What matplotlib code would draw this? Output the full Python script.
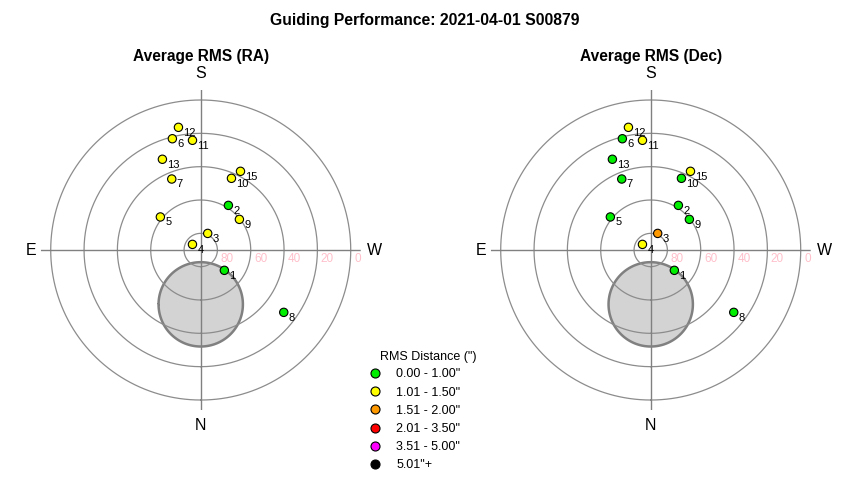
import numpy as np
import matplotlib
matplotlib.use("Agg")
import matplotlib.pyplot as plt
from matplotlib.lines import Line2D

plt.rcParams['font.family'] = ['Liberation Sans', 'DejaVu Sans']

# target numbers, azimuth (deg, N=0, E=90) and altitude (deg)
targets = [1, 2, 3, 4, 5, 6, 7, 8, 9, 10, 11, 12, 13, 15]
azimuth = [310.7, 211.8, 202.8, 124.2, 129.3, 165.7, 157.8, 306.9, 231.6, 203.2, 175.7, 169.7, 157.1, 206.8]
altitude = [71.3, 58.5, 79.2, 84.0, 58.7, 21.1, 44.0, 27.7, 60.4, 43.2, 24.0, 15.2, 30.9, 37.1]

# rms bin index per target (0: 0-1", 1: 1.01-1.5", 2: 1.51-2", ...)
ra_bin = [0, 0, 1, 1, 1, 1, 1, 0, 1, 1, 1, 1, 1, 1]
dec_bin = [0, 0, 2, 1, 0, 0, 0, 0, 0, 0, 1, 1, 0, 1]

bin_labels = ['0.00 - 1.00"', '1.01 - 1.50"', '1.51 - 2.00"', '2.01 - 3.50"', '3.51 - 5.00"', '5.01"+']
bin_colors = ['#00ee00', '#ffff00', '#ff9900', '#ff0000', '#ff00ff', '#000000']

# grey avoidance circle (moon)
moon_az = 0.0
moon_alt = 57.4
moon_radius = 25.3

ring_alts = [80, 60, 40, 20, 0]
RMAX = 96


def moon_outline(az, alt, rad):
    # circle in the flat projection, turned back into (theta, r)
    zd = 90 - alt
    cx = zd * np.sin(np.radians(az))
    cy = zd * np.cos(np.radians(az))
    t = np.linspace(0, 2 * np.pi, 200)
    x = cx + rad * np.cos(t)
    y = cy + rad * np.sin(t)
    return np.arctan2(x, y), np.hypot(x, y)


def draw_panel(ax, bins, title):
    ax.set_theta_zero_location('S')
    ax.set_theta_direction(-1)
    ax.set_ylim(0, RMAX)
    ax.grid(False)
    ax.set_xticks([])
    ax.set_yticks([])
    ax.spines['polar'].set_visible(False)
    ax.patch.set_alpha(0)

    th, rr = moon_outline(moon_az, moon_alt, moon_radius)
    ax.fill(th, rr, facecolor='#d3d3d3', edgecolor='#808080', lw=1.8, zorder=1)

    t = np.linspace(0, 2 * np.pi, 361)
    for a in ring_alts:
        ax.plot(t, np.full_like(t, 90 - a), color='#8c8c8c', lw=0.9, zorder=2)
        ax.annotate(str(a), xy=(np.radians(270), 90 - a), xytext=(2.5, -2.5),
                    textcoords='offset points', ha='left', va='top',
                    color='#ffc0cb', fontsize=8.5, zorder=2)

    # cross lines
    ax.plot([0, np.pi], [RMAX, RMAX], color='#808080', lw=1, zorder=2)
    ax.plot([np.pi / 2, 3 * np.pi / 2], [RMAX, RMAX], color='#808080', lw=1, zorder=2)

    for lab, az, r in [('S', 180, 106), ('N', 0, 105), ('E', 90, 102), ('W', 270, 104)]:
        ax.text(np.radians(az), r, lab, ha='center', va='center', fontsize=11.5,
                clip_on=False)

    theta = np.radians(azimuth)
    r = 90 - np.array(altitude)
    cols = [bin_colors[b] for b in bins]
    ax.scatter(theta, r, s=36, c=cols, edgecolors='black', linewidths=0.8, zorder=5)
    for n, th1, r1 in zip(targets, theta, r):
        ax.annotate(str(n), xy=(th1, r1), xytext=(3.5, -7.5), textcoords='offset points',
                    ha='left', va='bottom', fontsize=8, zorder=6)

    ax.set_title(title, fontsize=11.2, fontweight='bold', pad=0, y=1.09)


fig = plt.figure(figsize=(8.5, 4.8), dpi=100)
fig.suptitle('Guiding Performance: 2021-04-01 S00879', fontsize=11.3, fontweight='bold', y=0.973)

ax1 = fig.add_axes([0.0479, 0.1458, 0.3765, 0.6667], projection='polar')
ax2 = fig.add_axes([0.5773, 0.1458, 0.3765, 0.6667], projection='polar')
draw_panel(ax1, ra_bin, 'Average RMS (RA)')
draw_panel(ax2, dec_bin, 'Average RMS (Dec)')

handles = [Line2D([], [], ls='none', marker='o', markersize=6.5, markerfacecolor=c,
                  markeredgecolor='black', markeredgewidth=0.8) for c in bin_colors]
fig.legend(handles, bin_labels, loc='upper left',
           bbox_to_anchor=(364 / 850, 1 - 362 / 480), frameon=False,
           fontsize=9, handletextpad=1.28, labelspacing=0.5,
           handlelength=0.8, borderpad=0)
fig.text(380 / 850, 1 - 357 / 480, 'RMS Distance (")', ha='left', va='center', fontsize=9)

fig.savefig('out.png', dpi=100)
